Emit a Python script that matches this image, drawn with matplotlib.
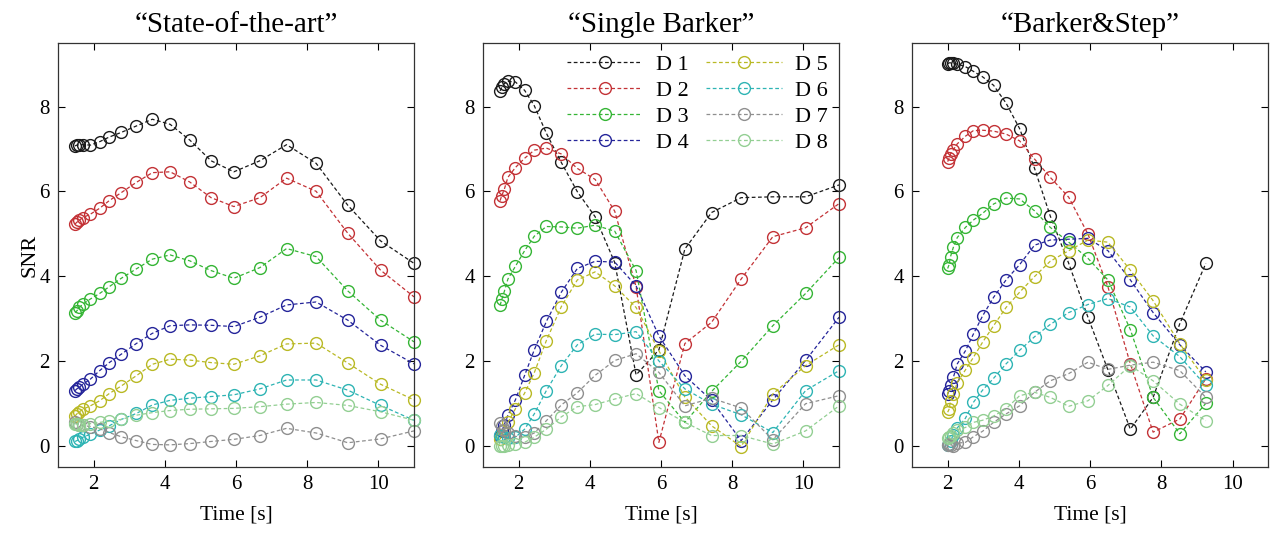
import matplotlib
matplotlib.use("Agg")
import matplotlib.pyplot as plt

plt.rcParams['font.family'] = ['Liberation Serif', 'DejaVu Serif']

# time samples [s]
t_sota = [1.48, 1.53, 1.6, 1.7, 1.91, 2.17, 2.44, 2.78, 3.2, 3.65,
          4.15, 4.7, 5.3, 5.94, 6.67, 7.42, 8.25, 9.14, 10.06, 11.0]
t_barker = t_sota
t_step = [2.0, 2.04, 2.08, 2.16, 2.27, 2.5, 2.72, 2.98, 3.29, 3.64,
          4.02, 4.44, 4.88, 5.40, 5.94, 6.50, 7.13, 7.77, 8.52, 9.25]

# SNR per detector, "State-of-the-art"
sota = {
    'D 1': [7.07, 7.09, 7.10, 7.10, 7.09, 7.17, 7.28, 7.39, 7.54, 7.70, 7.58, 7.21, 6.72, 6.46, 6.72, 7.10, 6.66, 5.67, 4.83, 4.30],
    'D 2': [5.23, 5.27, 5.32, 5.38, 5.46, 5.60, 5.78, 5.97, 6.21, 6.44, 6.46, 6.22, 5.85, 5.64, 5.85, 6.31, 6.00, 5.01, 4.14, 3.51],
    'D 3': [3.14, 3.18, 3.26, 3.34, 3.46, 3.59, 3.75, 3.95, 4.17, 4.40, 4.50, 4.36, 4.13, 3.95, 4.20, 4.65, 4.46, 3.65, 2.96, 2.45],
    'D 4': [1.30, 1.34, 1.38, 1.45, 1.57, 1.77, 1.96, 2.16, 2.41, 2.65, 2.83, 2.85, 2.84, 2.81, 3.03, 3.32, 3.39, 2.96, 2.37, 1.93],
    'D 5': [0.70, 0.75, 0.80, 0.86, 0.94, 1.06, 1.23, 1.41, 1.65, 1.92, 2.04, 2.02, 1.96, 1.92, 2.12, 2.40, 2.42, 1.95, 1.45, 1.08],
    'D 6': [0.10, 0.12, 0.15, 0.20, 0.27, 0.37, 0.47, 0.62, 0.76, 0.96, 1.07, 1.12, 1.16, 1.20, 1.34, 1.55, 1.55, 1.31, 0.95, 0.60],
    'D 7': [0.55, 0.52, 0.50, 0.48, 0.45, 0.40, 0.31, 0.21, 0.12, 0.03, 0.02, 0.05, 0.10, 0.15, 0.24, 0.41, 0.30, 0.07, 0.16, 0.35],
    'D 8': [0.52, 0.51, 0.50, 0.50, 0.52, 0.55, 0.58, 0.62, 0.72, 0.78, 0.83, 0.86, 0.87, 0.88, 0.92, 0.98, 1.02, 0.95, 0.80, 0.60],
}

# "Single Barker"
barker = {
    'D 1': [8.37, 8.45, 8.54, 8.59, 8.58, 8.38, 8.02, 7.37, 6.68, 5.99, 5.40, 4.32, 1.67, 2.26, 4.64, 5.50, 5.85, 5.87, 5.87, 6.15],
    'D 2': [5.78, 5.90, 6.05, 6.33, 6.56, 6.78, 6.97, 7.02, 6.88, 6.54, 6.28, 5.53, 3.75, 0.08, 2.41, 2.91, 3.93, 4.93, 5.14, 5.71],
    'D 3': [3.31, 3.45, 3.64, 3.93, 4.23, 4.60, 4.94, 5.17, 5.16, 5.13, 5.20, 5.06, 4.13, 1.30, 0.55, 1.28, 1.99, 2.83, 3.59, 4.44],
    'D 4': [0.22, 0.35, 0.50, 0.72, 1.08, 1.66, 2.26, 2.93, 3.62, 4.18, 4.35, 4.33, 3.77, 2.59, 1.65, 1.07, 0.12, 1.08, 2.01, 3.03],
    'D 5': [0.15, 0.25, 0.38, 0.55, 0.87, 1.24, 1.72, 2.48, 3.28, 3.91, 4.10, 3.77, 3.26, 2.24, 1.15, 0.47, -0.02, 1.22, 1.89, 2.38],
    'D 6': [0.25, 0.22, 0.20, 0.18, 0.20, 0.39, 0.75, 1.30, 1.89, 2.38, 2.63, 2.62, 2.69, 2.00, 1.34, 0.98, 0.73, 0.31, 1.30, 1.77],
    'D 7': [0.53, 0.46, 0.38, 0.30, 0.22, 0.20, 0.30, 0.59, 0.96, 1.25, 1.66, 2.01, 2.17, 1.73, 0.94, 1.12, 0.89, 0.14, 0.99, 1.18],
    'D 8': [0.00, 0.00, 0.00, 0.02, 0.05, 0.08, 0.20, 0.39, 0.68, 0.92, 0.97, 1.10, 1.23, 0.90, 0.55, 0.24, 0.24, 0.04, 0.35, 0.94],
}

# "Barker&Step"
step = {
    'D 1': [9.01, 9.03, 9.03, 9.02, 9.00, 8.94, 8.83, 8.70, 8.50, 8.08, 7.48, 6.54, 5.42, 4.30, 3.03, 1.79, 0.39, 1.14, 2.88, 4.30],
    'D 2': [6.70, 6.78, 6.88, 6.98, 7.12, 7.30, 7.43, 7.44, 7.42, 7.35, 7.19, 6.76, 6.33, 5.86, 4.99, 3.75, 1.93, 0.32, 0.63, 1.58],
    'D 3': [4.18, 4.27, 4.46, 4.68, 4.91, 5.15, 5.32, 5.48, 5.70, 5.84, 5.82, 5.54, 5.15, 4.80, 4.42, 3.91, 2.74, 1.14, 0.28, 1.00],
    'D 4': [1.22, 1.30, 1.42, 1.61, 1.93, 2.24, 2.63, 3.06, 3.50, 3.91, 4.27, 4.73, 4.85, 4.87, 4.89, 4.60, 3.91, 3.14, 2.38, 1.74],
    'D 5': [0.79, 0.86, 1.05, 1.22, 1.49, 1.79, 2.08, 2.44, 2.83, 3.26, 3.62, 3.99, 4.35, 4.60, 4.85, 4.80, 4.14, 3.42, 2.40, 1.55],
    'D 6': [0.02, 0.05, 0.12, 0.25, 0.42, 0.65, 1.02, 1.31, 1.59, 1.93, 2.25, 2.57, 2.86, 3.14, 3.33, 3.47, 3.27, 2.59, 2.10, 1.42],
    'D 7': [0.02, 0.04, 0.02, 0.00, 0.06, 0.08, 0.21, 0.34, 0.55, 0.75, 0.94, 1.26, 1.53, 1.70, 1.97, 1.80, 1.90, 1.97, 1.77, 1.14],
    'D 8': [0.18, 0.20, 0.22, 0.30, 0.38, 0.43, 0.55, 0.60, 0.70, 0.87, 1.18, 1.26, 1.14, 0.93, 1.06, 1.42, 1.89, 1.53, 0.98, 0.59],
}

colors = {
    'D 1': '#1a1a1a', 'D 2': '#c33236', 'D 3': '#35b535', 'D 4': '#25259a',
    'D 5': '#b9b925', 'D 6': '#2eb4b4', 'D 7': '#8f8f8f', 'D 8': '#93cf93',
}

titles = ['\u201cState-of-the-art\u201d', '\u201cSingle Barker\u201d', '\u201cBarker&Step\u201d']
panels = [(t_sota, sota), (t_barker, barker), (t_step, step)]

fig = plt.figure(figsize=(12.74, 5.33), dpi=100)
lefts = [0.0455, 0.3791, 0.7159]
axes = [fig.add_axes([l, 0.124, 0.2795, 0.7955]) for l in lefts]

for ax, (t, data), title in zip(axes, panels, titles):
    for name, vals in data.items():
        ax.plot(t, vals, linestyle=(0, (3, 2)), linewidth=0.9, color=colors[name],
                marker='o', markersize=8.5, markerfacecolor='none',
                markeredgewidth=1.0, label=name, clip_on=False)
    ax.set_xlim(1, 11)
    ax.set_ylim(-0.5, 9.5)
    ax.set_xticks([2, 4, 6, 8, 10])
    ax.set_yticks([0, 2, 4, 6, 8])
    ax.tick_params(direction='in', top=True, right=True, labelsize=15,
                   length=5, width=0.8, pad=6)
    for sp in ax.spines.values():
        sp.set_linewidth(0.9)
        sp.set_color('#333333')
    ax.set_title(title, fontsize=21, pad=8)
    ax.set_xlabel('Time [s]', fontsize=15.5, labelpad=8)

axes[0].set_ylabel('SNR', fontsize=16, labelpad=0)

axes[1].legend(loc='upper right', ncol=2, frameon=False, fontsize=16,
               handlelength=3.4, handletextpad=0.6, columnspacing=0.8,
               labelspacing=0.25, borderaxespad=0.1)

fig.savefig('out.png', dpi=100)
